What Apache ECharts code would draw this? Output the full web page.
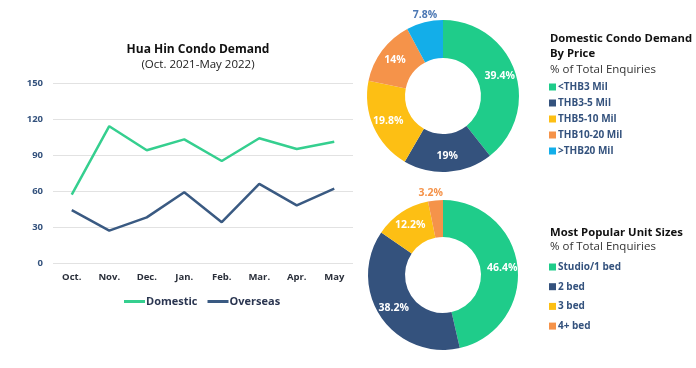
<!DOCTYPE html>
<html><head><meta charset="utf-8">
<script src="https://cdn.jsdelivr.net/npm/echarts@6/dist/echarts.min.js"></script>
<style>html,body{margin:0;padding:0;background:#fff}#c{width:696px;height:368px}</style>
</head><body><div id="c"></div>
<script>
const months = ['Oct.','Nov.','Dec.','Jan.','Feb.','Mar.','Apr.','May'];
const domestic = [57, 114, 94, 103, 85, 104, 95, 101];
const overseas = [44, 27, 38, 59, 34, 66, 48, 62];
const priceNames = ['<THB3 Mil','THB3-5 Mil','THB5-10 Mil','THB10-20 Mil','>THB20 Mil'];
const priceValues = [39.4, 19, 19.8, 14, 7.8];
const sizeNames = ['Studio/1 bed','2 bed','3 bed','4+ bed'];
const sizeValues = [46.4, 38.2, 12.2, 3.2];

const GREEN='#1fcc8a', NAVY='#34527d', YELLOW='#fdbf14', ORANGE='#f5934a', BLUE='#13aee9';
const FONT='Open Sans';
const priceColors=[GREEN,NAVY,YELLOW,ORANGE,BLUE];
const sizeColors=[GREEN,NAVY,YELLOW,ORANGE];

function pieData(names, vals, colors, outsideIdx, outsideColor, off){
  return names.map((n,i)=>{
    const d={name:n,value:vals[i],itemStyle:{color:colors[i]}};
    if(i===outsideIdx){
      d.label={position:'outside',color:outsideColor,offset:off};
      d.labelLine={show:false,length:6,length2:0};
    }
    return d;
  });
}
const pieLabel={show:true,position:'inside',color:'#fff',fontFamily:FONT,fontWeight:'bold',fontSize:10.5,formatter:p=>p.value+'%'};

const chart=echarts.init(document.getElementById('c'));
chart.setOption({
  animation:false,
  textStyle:{fontFamily:FONT},
  title:[
    {text:'Hua Hin Condo Demand',subtext:'(Oct. 2021-May 2022)',left:193,textAlign:'center',top:39,itemGap:3,
     textStyle:{fontFamily:FONT,fontWeight:'bold',fontSize:12,color:'#111'},
     subtextStyle:{fontFamily:FONT,fontSize:11.5,color:'#222'}},
    {text:'Domestic Condo Demand\nBy Price',subtext:'% of Total Enquiries',left:545,top:26,itemGap:3,
     textStyle:{fontFamily:FONT,fontWeight:'bold',fontSize:11.3,color:'#111',lineHeight:15},
     subtextStyle:{fontFamily:FONT,fontSize:11.5,color:'#333'}},
    {text:'Most Popular Unit Sizes',subtext:'% of Total Enquiries',left:545,top:222,itemGap:3,
     textStyle:{fontFamily:FONT,fontWeight:'bold',fontSize:11.3,color:'#111'},
     subtextStyle:{fontFamily:FONT,fontSize:11.5,color:'#333'}}
  ],
  legend:[
    {data:['Domestic','Overseas'],left:119,top:291,icon:'rect',itemWidth:21,itemHeight:3,itemGap:10,
     textStyle:{fontFamily:FONT,fontWeight:'bold',fontSize:11,color:'#2a3550',padding:[0,0,0,-4]}},
    {data:priceNames,orient:'vertical',left:544,top:77,icon:'rect',itemWidth:7,itemHeight:7,itemGap:6,
     textStyle:{fontFamily:FONT,fontWeight:'bold',fontSize:10,color:NAVY,padding:[0,0,0,-3]}},
    {data:sizeNames,orient:'vertical',left:544,top:257,icon:'rect',itemWidth:7,itemHeight:7,itemGap:9.7,
     textStyle:{fontFamily:FONT,fontWeight:'bold',fontSize:10,color:NAVY,padding:[0,0,0,-3]}}
  ],
  grid:{left:53,top:83,width:300,height:180},
  xAxis:{type:'category',data:months,boundaryGap:true,
    axisLine:{show:false},axisTick:{show:false},
    axisLabel:{margin:9,fontFamily:FONT,fontWeight:'bold',fontSize:9.5,color:'#2a2f3a'}},
  yAxis:{type:'value',min:0,max:150,interval:30,
    axisLine:{show:false},axisTick:{show:false},
    splitLine:{lineStyle:{color:'#e2e2e2',width:1}},
    axisLabel:{margin:10,fontFamily:FONT,fontWeight:'bold',fontSize:9.5,color:NAVY}},
  series:[
    {name:'Domestic',type:'line',data:domestic,symbol:'none',lineStyle:{width:2.5,color:'#35cf8f'},itemStyle:{color:'#35cf8f'}},
    {name:'Overseas',type:'line',data:overseas,symbol:'none',lineStyle:{width:2.5,color:'#3a5a82'},itemStyle:{color:'#3a5a82'}},
    {type:'pie',center:[443,96],radius:[38,76],startAngle:90,clockwise:true,label:pieLabel,
     labelLine:{show:false},emphasis:{disabled:true},
     data:pieData(priceNames,priceValues,priceColors,4,'#4c78b4',[19,-1])},
    {type:'pie',center:[443,275],radius:[38,75],startAngle:90,clockwise:true,label:pieLabel,
     labelLine:{show:false},emphasis:{disabled:true},
     data:pieData(sizeNames,sizeValues,sizeColors,3,ORANGE,[13,-1])}
  ]
});
</script></body></html>
